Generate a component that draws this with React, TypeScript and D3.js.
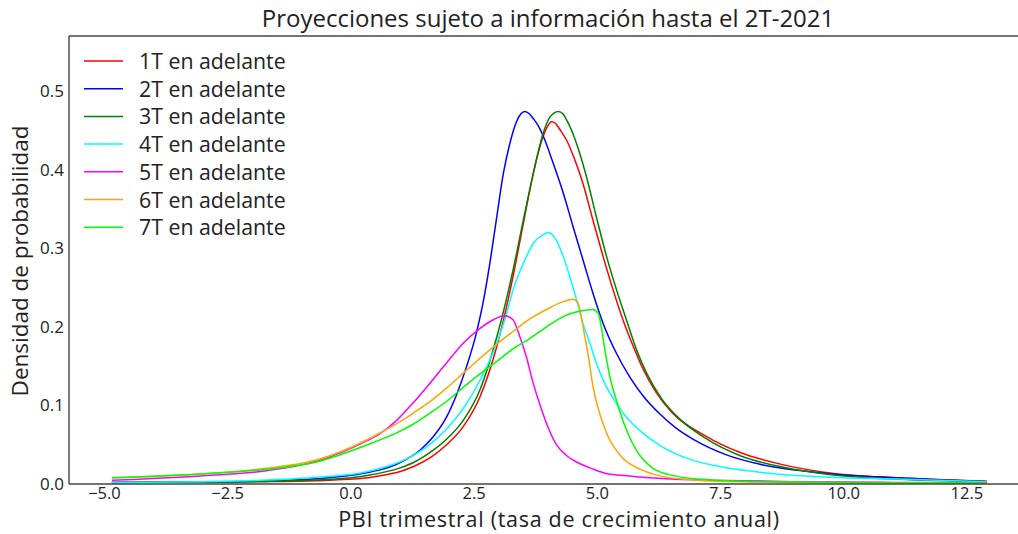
import React from 'react';
import * as d3 from 'd3';

type Pt = [number, number];

const titleText = 'Proyecciones sujeto a información hasta el 2T-2021';
const xLabelText = 'PBI trimestral (tasa de crecimiento anual)';
const yLabelText = 'Densidad de probabilidad';

const seriesLabels = [
  '1T en adelante',
  '2T en adelante',
  '3T en adelante',
  '4T en adelante',
  '5T en adelante',
  '6T en adelante',
  '7T en adelante',
];

const xTickValues = [-5, -2.5, 0, 2.5, 5, 7.5, 10, 12.5];
const yTickValues = [0, 0.1, 0.2, 0.3, 0.4, 0.5];

const s1T: Pt[] = [
  [-4.85, 0.002], [-3, 0.0025], [-1.7, 0.003], [-0.7, 0.0042], [0.3, 0.0075], [0.6, 0.0105],
  [1.0, 0.016], [1.26, 0.022], [1.67, 0.036], [1.94, 0.05], [2.28, 0.073], [2.62, 0.111],
  [2.96, 0.175], [3.16, 0.226], [3.29, 0.264], [3.5, 0.332], [3.7, 0.395], [3.9, 0.442],
  [3.98, 0.454], [4.07, 0.461], [4.15, 0.459], [4.24, 0.451], [4.38, 0.437], [4.51, 0.418],
  [4.61, 0.401], [4.71, 0.382], [4.91, 0.336], [5.12, 0.289], [5.32, 0.247], [5.52, 0.209],
  [5.73, 0.175], [5.93, 0.146], [6.2, 0.116], [6.5, 0.092], [7.2, 0.061], [7.9, 0.04],
  [8.8, 0.024], [9.8, 0.0135], [11.1, 0.008], [12.9, 0.0038],
];

const s2T: Pt[] = [
  [-4.85, 0.002], [-3, 0.0028], [-1.7, 0.004], [-0.7, 0.0067], [0.32, 0.0144], [0.59, 0.018],
  [0.99, 0.027], [1.4, 0.043], [1.67, 0.06], [1.94, 0.085], [2.14, 0.113], [2.35, 0.15],
  [2.55, 0.193], [2.68, 0.23], [2.82, 0.281], [2.96, 0.34], [3.09, 0.394], [3.22, 0.432],
  [3.36, 0.461], [3.45, 0.471], [3.53, 0.474], [3.62, 0.471], [3.7, 0.465], [3.8, 0.456],
  [3.9, 0.443], [4.1, 0.409], [4.31, 0.37], [4.51, 0.327], [4.71, 0.285], [4.91, 0.243],
  [5.12, 0.204], [5.39, 0.166], [5.66, 0.136], [5.93, 0.112], [6.27, 0.089], [6.6, 0.071],
  [6.94, 0.057], [7.62, 0.037], [8.3, 0.025], [9.65, 0.0135], [11.1, 0.0078], [12.9, 0.003],
];

const s3T: Pt[] = [
  [-4.85, 0.002], [-3, 0.0025], [-1.7, 0.0035], [-0.7, 0.005], [0.3, 0.0105], [1.0, 0.0205],
  [1.26, 0.027], [1.67, 0.043], [1.94, 0.057], [2.28, 0.081], [2.62, 0.12], [2.96, 0.187],
  [3.29, 0.272], [3.5, 0.336], [3.7, 0.395], [3.9, 0.446], [4.04, 0.467], [4.12, 0.472],
  [4.21, 0.474], [4.3, 0.471], [4.38, 0.463], [4.58, 0.433], [4.78, 0.391], [4.98, 0.34],
  [5.19, 0.289], [5.39, 0.247], [5.59, 0.209], [5.8, 0.17], [6.0, 0.141], [6.3, 0.109],
  [6.6, 0.087], [7.2, 0.058], [7.9, 0.036], [8.8, 0.021], [9.8, 0.0115], [11.1, 0.006],
  [12.9, 0.003],
];

const s4T: Pt[] = [
  [-4.85, 0.002], [-3, 0.003], [-1.7, 0.005], [-0.7, 0.0085], [0.32, 0.0157], [0.99, 0.028],
  [1.26, 0.036], [1.67, 0.054], [1.94, 0.07], [2.28, 0.096], [2.62, 0.132], [2.96, 0.179],
  [3.16, 0.217], [3.29, 0.247], [3.5, 0.281], [3.63, 0.298], [3.7, 0.306], [3.9, 0.317],
  [4.0, 0.32], [4.17, 0.31], [4.31, 0.289], [4.44, 0.264], [4.58, 0.234], [4.71, 0.204],
  [4.85, 0.179], [4.98, 0.154], [5.15, 0.128], [5.35, 0.106], [5.55, 0.088], [5.9, 0.066],
  [6.3, 0.048], [6.9, 0.031], [7.6, 0.021], [8.3, 0.015], [9.7, 0.0085], [11.1, 0.0064],
  [12.9, 0.003],
];

const s5T: Pt[] = [
  [-4.85, 0.0047], [-3.06, 0.0102], [-1.71, 0.017], [-0.7, 0.029], [0.32, 0.055], [0.59, 0.064],
  [0.93, 0.081], [1.26, 0.103], [1.6, 0.128], [1.94, 0.154], [2.28, 0.179], [2.62, 0.198],
  [2.89, 0.209], [3.12, 0.214], [3.29, 0.209], [3.43, 0.187], [3.56, 0.162], [3.7, 0.128],
  [3.83, 0.102], [3.97, 0.077], [4.17, 0.05], [4.38, 0.036], [4.58, 0.028], [4.91, 0.019],
  [5.2, 0.013], [5.6, 0.0105], [6.3, 0.007], [7.6, 0.0045], [9.0, 0.003], [11.0, 0.002],
  [12.9, 0.0015],
];

const s6T: Pt[] = [
  [-4.85, 0.0078], [-3.06, 0.0127], [-1.71, 0.02], [-0.7, 0.0305], [0.32, 0.056], [0.59, 0.065],
  [0.99, 0.079], [1.26, 0.09], [1.67, 0.108], [1.94, 0.122], [2.28, 0.141], [2.62, 0.16],
  [2.96, 0.178], [3.29, 0.194], [3.63, 0.21], [3.97, 0.222], [4.31, 0.232], [4.51, 0.235],
  [4.61, 0.23], [4.71, 0.2], [4.82, 0.162], [4.91, 0.125], [5.0, 0.1], [5.2, 0.063],
  [5.5, 0.034], [5.9, 0.018], [6.3, 0.01], [6.9, 0.0055], [7.5, 0.0035], [9.0, 0.002],
  [11.0, 0.0012], [12.9, 0.001],
];

const s7T: Pt[] = [
  [-4.85, 0.008], [-3.06, 0.0127], [-1.71, 0.0187], [-0.7, 0.028], [0.32, 0.0496], [0.99, 0.067],
  [1.26, 0.076], [1.67, 0.093], [1.94, 0.105], [2.28, 0.123], [2.62, 0.14], [2.96, 0.156],
  [3.29, 0.172], [3.63, 0.185], [3.97, 0.2], [4.31, 0.213], [4.65, 0.22], [4.91, 0.222],
  [5.02, 0.217], [5.08, 0.2], [5.15, 0.172], [5.25, 0.138], [5.39, 0.106], [5.59, 0.069],
  [5.8, 0.042], [6.13, 0.02], [6.6, 0.01], [7.25, 0.0055], [8.0, 0.0035], [9.5, 0.0022],
  [11.0, 0.0015], [12.9, 0.001],
];

const seriesData = [s1T, s2T, s3T, s4T, s5T, s6T, s7T];
const seriesColors = ['#ff0000', '#0000ff', '#008000', '#00ffff', '#ff00ff', '#ffa500', '#00ff00'];

const W = 1018;
const H = 534;
const FONT = '"Open Sans", Roboto, "DejaVu Sans", sans-serif';

export default function App() {
  const left = 69;
  const right = 1031;
  const top = 36;
  const bottom = 484;
  const x = d3.scaleLinear().domain([-5.72, 13.8]).range([left, right]);
  const y = d3.scaleLinear().domain([0, 0.57]).range([bottom, top]);
  const line = d3
    .line<Pt>()
    .x((d) => x(d[0]))
    .y((d) => y(d[1]))
    .curve(d3.curveMonotoneX);
  const fmt = d3.format('.1f');
  const spine = '#444';
  const txt = '#222';

  return (
    <svg
      width={W}
      height={H}
      style={{ position: 'absolute', left: 0, top: 0, background: '#fff' }}
      fontFamily={FONT}
    >
      <rect x={0} y={0} width={W} height={H} fill="#fff" />
      {seriesData.map((s, i) => (
        <path key={i} d={line(s) || ''} fill="none" stroke={seriesColors[i]} strokeWidth={1.5} />
      ))}
      <line x1={left} x2={right} y1={top} y2={top} stroke={spine} strokeWidth={1.4} />
      <line x1={left} x2={right} y1={bottom} y2={bottom} stroke={spine} strokeWidth={1.4} />
      <line x1={left} x2={left} y1={top} y2={bottom} stroke={spine} strokeWidth={1.4} />
      {xTickValues.map((v) => (
        <text key={v} x={x(v)} y={499} fontSize={16.5} textAnchor="middle" fill={txt}>
          {fmt(v)}
        </text>
      ))}
      {yTickValues.map((v) => (
        <text key={v} x={64} y={y(v) + 6} fontSize={17} textAnchor="end" fill={txt}>
          {fmt(v)}
        </text>
      ))}
      <text x={548} y={27} fontSize={24} textAnchor="middle" fill={txt}>
        {titleText}
      </text>
      <text
        x={559}
        y={527.3}
        fontSize={21.5}
        letterSpacing={0.7}
        textAnchor="middle"
        fill={txt}
      >
        {xLabelText}
      </text>
      <text
        transform={`translate(28, ${(top + bottom) / 2 + 1}) rotate(-90)`}
        fontSize={22.5}
        textAnchor="middle"
        fill={txt}
      >
        {yLabelText}
      </text>
      {seriesLabels.map((lab, i) => {
        const ly = 61 + i * 27.7;
        return (
          <g key={lab}>
            <line x1={84} x2={123} y1={ly} y2={ly} stroke={seriesColors[i]} strokeWidth={1.5} />
            <text x={139} y={ly + 8} fontSize={21.3} fill={txt}>
              {lab}
            </text>
          </g>
        );
      })}
    </svg>
  );
}
